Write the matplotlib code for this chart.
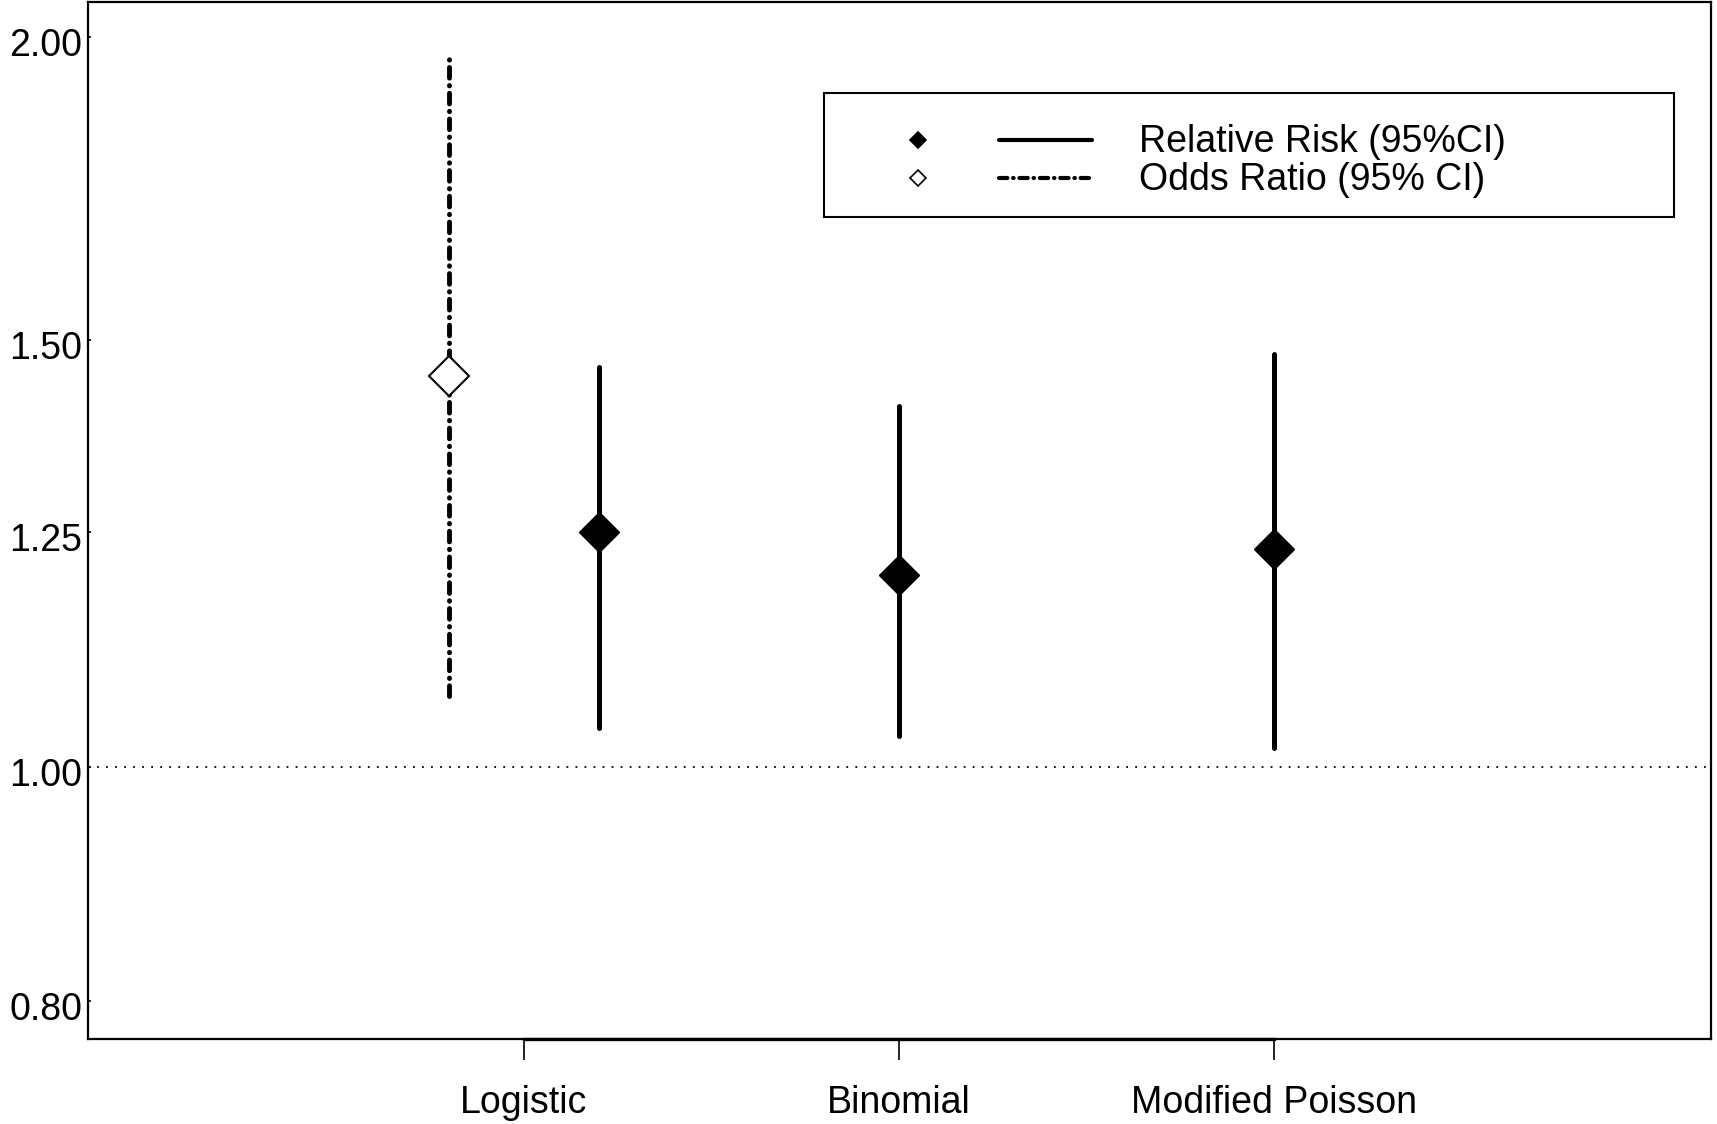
import matplotlib
matplotlib.use("Agg")
import matplotlib.pyplot as plt
from matplotlib.lines import Line2D
from matplotlib.patches import Rectangle
import matplotlib.transforms as mtransforms
import numpy as np

plt.rcParams['font.family'] = ['Liberation Sans', 'DejaVu Sans']

# Data
models = ["Logistic", "Binomial", "Modified Poisson"]
rr_est = [1.249, 1.200, 1.230]
rr_low = [1.037, 1.029, 1.018]
rr_high = [1.461, 1.409, 1.480]
or_est = [1.449]
or_low = [1.069]
or_high = [1.958]
yticks = [0.80, 1.00, 1.25, 1.50, 2.00]
ytick_labels = ["0.80", "1.00", "1.25", "1.50", "2.00"]

W, H = 1717, 1124
fig = plt.figure(figsize=(W / 100, H / 100), dpi=100)
ax = fig.add_axes([88 / W, 1 - 1039 / H, (1711 - 88) / W, (1039 - 2) / H])
ax.set_yscale('log')
ax.set_xlim(-0.161, 4.165)
ax.set_ylim(0.772, 2.067)

xpos = np.arange(1, len(models) + 1, dtype=float)
rr_x = xpos.copy()
rr_x[0] += 0.2
or_x = [xpos[0] - 0.2]

# reference line
ax.axhline(1.0, color='black', lw=1.3, linestyle=(0, (1, 4)), zorder=1)

# OR (dash-dot)
odash = (0, (2.2, 1.5, 0.1, 1.5))
for x, lo, hi in zip(or_x, or_low, or_high):
    ax.plot([x, x], [lo, hi], color='black', lw=3.5, linestyle=odash,
            dash_capstyle='round', zorder=2)
ax.plot(or_x, or_est, linestyle='none', marker='D', markersize=20,
        markerfacecolor='white', markeredgecolor='black', markeredgewidth=1.5, zorder=3)

# RR (solid)
for x, lo, hi in zip(rr_x, rr_low, rr_high):
    ax.plot([x, x], [lo, hi], color='black', lw=3.6, solid_capstyle='round', zorder=2)
ax.plot(rr_x, rr_est, linestyle='none', marker='D', markersize=20,
        color='black', zorder=3)

ax.set_xticks(xpos)
ax.set_xticklabels(models, fontsize=27)
ax.set_yticks(yticks)
ax.set_yticklabels(ytick_labels, fontsize=27)
ax.yaxis.set_minor_locator(matplotlib.ticker.NullLocator())
ax.tick_params(axis='x', length=15, width=1.2, pad=18, direction='out')
ax.tick_params(axis='y', length=2, width=1.2, pad=4, direction='in')
shift = mtransforms.ScaledTranslation(0, -5 / 100, fig.dpi_scale_trans)
for lab in ax.get_yticklabels():
    lab.set_transform(lab.get_transform() + shift)
for s in ax.spines.values():
    s.set_linewidth(1.6)

# axis line between first and last tick (as in R's axis())
ax.plot([xpos[0], xpos[-1]], [0, 0], transform=ax.get_xaxis_transform(),
        color='black', lw=2.4, clip_on=False, zorder=4)

# Legend (manual)
def fx(px):
    return px / W
def fy(py):
    return 1 - py / H

fig.patches.append(Rectangle((fx(824), fy(217)), fx(1674) - fx(824), (217 - 93) / H,
                             transform=fig.transFigure, fill=False, edgecolor='black',
                             linewidth=1.5, zorder=5))
rows = [
    dict(y=140, mfc='black', ls='-', label="Relative Risk (95%CI)"),
    dict(y=178, mfc='white', ls=(0, (2.0, 1.4, 0.1, 1.4)), label="Odds Ratio (95% CI)"),
]
for r in rows:
    fig.add_artist(Line2D([fx(918)], [fy(r['y'])], transform=fig.transFigure,
                          marker='D', markersize=8, markerfacecolor=r['mfc'],
                          markeredgecolor='black', markeredgewidth=1.2, linestyle='none'))
    fig.add_artist(Line2D([fx(999), fx(1092)], [fy(r['y']), fy(r['y'])],
                          transform=fig.transFigure, color='black', lw=3.0,
                          linestyle=r['ls'], dash_capstyle='round',
                          solid_capstyle='round'))
    fig.text(fx(1139), fy(r['y'] + 2), r['label'], fontsize=27, va='center', ha='left')

fig.savefig("out.png", dpi=100)
